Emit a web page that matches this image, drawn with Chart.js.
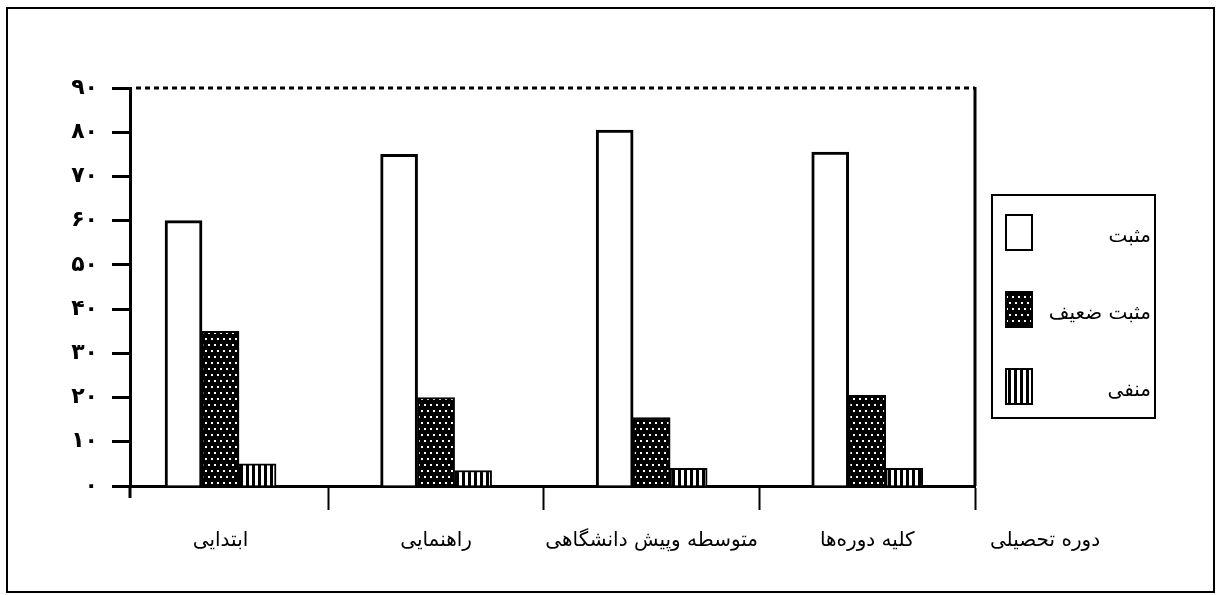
<!DOCTYPE html>
<html>
<head>
<meta charset="utf-8">
<script src="https://cdn.jsdelivr.net/npm/chart.js@4.4.0/dist/chart.umd.min.js"></script>
<style>
  html, body { margin: 0; padding: 0; background: #fff; }
  #wrap { width: 1221px; height: 595px; }
</style>
</head>
<body>
<div id="wrap"><canvas id="eduChart" width="1221" height="595"></canvas></div>
<script>
// categories and series
const categories = ['ابتدایی', 'راهنمایی', 'متوسطه وپیش دانشگاهی', 'کلیه دوره‌ها'];
const seriesNames = ['مثبت', 'مثبت ضعیف', 'منفی'];
const positive = [60, 75, 80.5, 75.5];
const weakPositive = [35, 20, 15.5, 20.5];
const negative = [5, 3.5, 4, 4];
const yTickLabels = ['۰', '۱۰', '۲۰', '۳۰', '۴۰', '۵۰', '۶۰', '۷۰', '۸۰', '۹۰'];
const axisTitle = 'دوره تحصیلی';

const FONT = '"DejaVu Sans", "Noto Sans", sans-serif';

// fill patterns
function dotPattern() {
  const c = document.createElement('canvas');
  c.width = 6; c.height = 12;
  const g = c.getContext('2d');
  g.fillStyle = '#000'; g.fillRect(0, 0, 6, 12);
  g.fillStyle = '#fff';
  g.fillRect(1, 2, 2, 2);
  g.fillRect(4, 8, 2, 2);
  return g.createPattern(c, 'repeat');
}
function stripePattern() {
  const c = document.createElement('canvas');
  c.width = 6; c.height = 2;
  const g = c.getContext('2d');
  g.fillStyle = '#fff'; g.fillRect(0, 0, 6, 2);
  g.fillStyle = '#000'; g.fillRect(0, 0, 3, 2);
  return g.createPattern(c, 'repeat');
}

const fills = ['#ffffff', dotPattern(), stripePattern()];

// extra drawing: outer frame, right border, dotted top line, axis title, legend box
const decor = {
  id: 'decor',
  beforeDraw(chart) {
    const ctx = chart.ctx;
    ctx.save();
    ctx.strokeStyle = '#000';
    ctx.lineWidth = 2;
    ctx.strokeRect(7, 8, 1207, 584);
    ctx.restore();
  },
  afterDraw(chart) {
    const ctx = chart.ctx;
    const a = chart.chartArea;
    const y = chart.scales.y;
    const top = y.getPixelForValue(90);
    ctx.save();
    ctx.strokeStyle = '#000';
    ctx.lineWidth = 3;
    // right edge of plot
    ctx.beginPath();
    ctx.moveTo(a.right, top - 1);
    ctx.lineTo(a.right, a.bottom);
    ctx.stroke();
    // y axis runs a little below zero
    ctx.beginPath();
    ctx.moveTo(a.left, a.bottom);
    ctx.lineTo(a.left, a.bottom + 12);
    ctx.stroke();
    // dotted line at 90
    ctx.setLineDash([5, 4]);
    ctx.beginPath();
    ctx.moveTo(a.left + 6, top);
    ctx.lineTo(a.right, top);
    ctx.stroke();
    ctx.setLineDash([]);

    // axis title
    ctx.fillStyle = '#000';
    ctx.font = '20px ' + FONT;
    ctx.textAlign = 'center';
    ctx.textBaseline = 'middle';
    ctx.direction = 'rtl';
    ctx.fillText(axisTitle, a.right + 70, a.bottom + 55);

    // legend
    const lx = a.right + 17, ly = 195, lw = 163, lh = 223;
    ctx.lineWidth = 2;
    ctx.strokeRect(lx, ly, lw, lh);
    chart.data.datasets.forEach((ds, i) => {
      const sy = ly + 20 + i * 77;
      ctx.fillStyle = ds.backgroundColor;
      ctx.fillRect(lx + 14, sy, 26, 35);
      ctx.lineWidth = 2;
      ctx.strokeRect(lx + 14, sy, 26, 35);
      ctx.fillStyle = '#000';
      ctx.textAlign = 'right';
      ctx.direction = 'rtl';
      ctx.fillText(ds.label, lx + lw - 4, sy + 22);
    });
    ctx.restore();
  }
};

const series = [positive, weakPositive, negative];

new Chart(document.getElementById('eduChart'), {
  type: 'bar',
  data: {
    datasets: series.map((d, i) => ({
      label: seriesNames[i],
      data: d.map((v, k) => ({ x: k, y: v })),
      backgroundColor: fills[i],
      borderColor: '#000',
      borderWidth: i === 0 ? 3 : 2,
      borderSkipped: 'bottom',
      barThickness: 37
    }))
  },
  options: {
    responsive: false,
    animation: false,
    devicePixelRatio: 1,
    layout: { padding: { top: 88, right: 246, bottom: 0, left: 0 } },
    plugins: { legend: { display: false }, tooltip: { enabled: false } },
    scales: {
      x: {
        type: 'linear',
        min: -0.42, max: 3.5,
        offset: false,
        afterBuildTicks(s) {
          const t = [];
          categories.forEach((c, k) => { t.push({ value: k }); t.push({ value: k + 0.5 }); });
          s.ticks = t;
        },
        grid: {
          offset: false,
          drawOnChartArea: false, tickLength: 24, tickWidth: 2,
          tickColor: c => (c.tick && Number.isInteger(c.tick.value)) ? 'rgba(0,0,0,0)' : '#000'
        },
        border: { color: '#000', width: 3 },
        ticks: {
          color: '#000', font: { family: FONT, size: 20 }, padding: 19, maxRotation: 0,
          autoSkip: false,
          callback: v => Number.isInteger(v) ? categories[v] : ''
        },
        afterFit(s) { s.height = 109; }
      },
      y: {
        min: 0, max: 90,
        ticks: {
          stepSize: 10,
          color: '#000',
          font: { family: FONT, size: 22, weight: 'bold' },
          padding: 14,
          callback: (v, i) => yTickLabels[i]
        },
        grid: { drawOnChartArea: false, tickLength: 18, tickWidth: 3, tickColor: '#000' },
        border: { color: '#000', width: 3 },
        afterFit(s) { s.width = 130; }
      }
    }
  },
  plugins: [decor]
});
</script>
</body>
</html>
